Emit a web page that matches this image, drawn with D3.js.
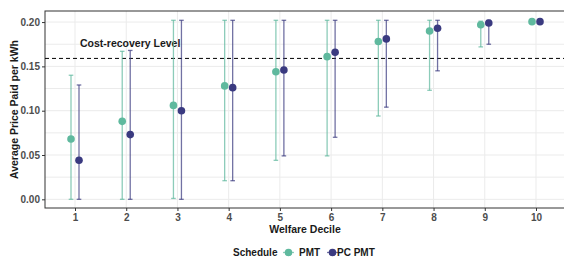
<!DOCTYPE html>
<meta charset="utf-8">
<head>
<style>
  body { margin: 0; background: #fff; }
  svg { font-family: 'Liberation Sans', Arial, sans-serif; font-weight: bold; }
  .grid line { stroke: #ebebeb; stroke-width: 1px; }
  .axis text { fill: #4d4d4d; font-size: 10px; }
  .axis path { display: none; }
  .axis line { stroke: #333; }
</style>
</head>
<body>
<svg width="564" height="258"></svg>
<script src="https://d3js.org/d3.v7.min.js"></script>
<script>
// welfare deciles
const deciles = [1, 2, 3, 4, 5, 6, 7, 8, 9, 10];

// PMT schedule: mean price and interval
const pmtMean = [0.068, 0.088, 0.106, 0.128, 0.144, 0.161, 0.178, 0.190, 0.197, 0.2005];
const pmtLow  = [0.000, 0.000, 0.001, 0.021, 0.044, 0.049, 0.094, 0.123, 0.172, 0.2005];
const pmtHigh = [0.140, 0.167, 0.202, 0.202, 0.202, 0.202, 0.202, 0.202, 0.201, 0.2005];

// PC PMT schedule
const pcMean = [0.044, 0.073, 0.100, 0.126, 0.146, 0.166, 0.181, 0.193, 0.199, 0.2005];
const pcLow  = [0.000, 0.000, 0.000, 0.021, 0.049, 0.070, 0.104, 0.145, 0.175, 0.2005];
const pcHigh = [0.129, 0.168, 0.202, 0.202, 0.202, 0.202, 0.202, 0.202, 0.202, 0.2005];

const costRecovery = 0.159;
const yTicks = [0, 0.05, 0.10, 0.15, 0.20];
const yMinor = [0.025, 0.075, 0.125, 0.175];

const series = [
  {name: "PMT", mean: pmtMean, low: pmtLow, high: pmtHigh, color: "#5fb99e", dx: -4},
  {name: "PC PMT", mean: pcMean, low: pcLow, high: pcHigh, color: "#3a3a80", dx: 4}
];

const svg = d3.select("svg");
const pLeft = 45, pRight = 567, pTop = 11, pBottom = 208;

const x = d3.scalePoint().domain(deciles).range([75, 536]);
const y = d3.scaleLinear().domain([-0.0098, 0.2125]).range([pBottom, pTop]);

// grid
const grid = svg.append("g").attr("class", "grid");
grid.selectAll(".hm").data(yMinor.concat(yTicks)).enter().append("line")
  .attr("x1", pLeft).attr("x2", pRight)
  .attr("y1", d => y(d)).attr("y2", d => y(d));
grid.selectAll(".v").data(deciles).enter().append("line")
  .attr("x1", d => x(d)).attr("x2", d => x(d))
  .attr("y1", pTop).attr("y2", pBottom);

// panel border
svg.append("rect")
  .attr("x", pLeft).attr("y", pTop)
  .attr("width", pRight - pLeft).attr("height", pBottom - pTop)
  .attr("fill", "none").attr("stroke", "#333").attr("stroke-width", 1);

// axes
svg.append("g").attr("class", "axis")
  .attr("transform", `translate(${pLeft},0)`)
  .call(d3.axisLeft(y).tickValues(yTicks).tickFormat(d3.format(".2f")).tickSize(3).tickPadding(2));
svg.append("g").attr("class", "axis")
  .attr("transform", `translate(0,${pBottom})`)
  .call(d3.axisBottom(x).tickSize(3).tickPadding(3));

// cost recovery line
svg.append("line")
  .attr("x1", pLeft).attr("x2", pRight)
  .attr("y1", y(costRecovery)).attr("y2", y(costRecovery))
  .attr("stroke", "#000").attr("stroke-width", 1)
  .attr("stroke-dasharray", "4,3");
svg.append("text")
  .attr("x", 80).attr("y", y(costRecovery) - 11)
  .attr("font-size", "10.5px").attr("fill", "#1a1a1a")
  .text("Cost-recovery Level");

// error bars and points
series.forEach(s => {
  const g = svg.append("g");
  const rows = deciles.map((d, i) => ({d: d, m: s.mean[i], lo: s.low[i], hi: s.high[i]}))
  const bars = g.selectAll(".eb").data(rows.filter(r => r.hi > r.lo)).enter().append("g")
    .attr("stroke", s.color).attr("stroke-opacity", 0.72).attr("stroke-width", 1.3);
  bars.append("line")
    .attr("x1", r => x(r.d) + s.dx).attr("x2", r => x(r.d) + s.dx)
    .attr("y1", r => y(r.lo)).attr("y2", r => y(r.hi));
  [r => r.lo, r => r.hi].forEach(f => {
    bars.append("line")
      .attr("x1", r => x(r.d) + s.dx - 2.3).attr("x2", r => x(r.d) + s.dx + 2.3)
      .attr("y1", r => y(f(r))).attr("y2", r => y(f(r)));
  });
  g.selectAll("circle").data(rows).enter().append("circle")
    .attr("cx", r => x(r.d) + s.dx).attr("cy", r => y(r.m))
    .attr("r", 3.8).attr("fill", s.color);
});

// axis titles
svg.append("text")
  .attr("x", 305).attr("y", 233)
  .attr("text-anchor", "middle").attr("font-size", "10.5px").attr("fill", "#1a1a1a")
  .text("Welfare Decile");
svg.append("text")
  .attr("transform", `translate(18,${(pTop + pBottom) / 2}) rotate(-90)`)
  .attr("text-anchor", "middle").attr("font-size", "10.5px").attr("fill", "#1a1a1a")
  .text("Average Price Paid per kWh");

// legend
const leg = svg.append("g").attr("transform", "translate(233,256)");
leg.append("text").attr("x", 0).attr("y", 0).attr("font-size", "10px").attr("fill", "#1a1a1a").text("Schedule");
const keyX = [50, 94];
const labX = [66, 104];
series.forEach((s, i) => {
  leg.append("line")
    .attr("x1", keyX[i]).attr("x2", keyX[i] + 11)
    .attr("y1", -3.5).attr("y2", -3.5)
    .attr("stroke", s.color).attr("stroke-opacity", 0.72).attr("stroke-width", 1.3);
  leg.append("circle").attr("cx", keyX[i] + 5.5).attr("cy", -3.5).attr("r", 3.8).attr("fill", s.color);
  leg.append("text").attr("x", labX[i]).attr("y", 0).attr("font-size", "10px").attr("fill", "#1a1a1a").text(s.name);
});
</script>
</body>
